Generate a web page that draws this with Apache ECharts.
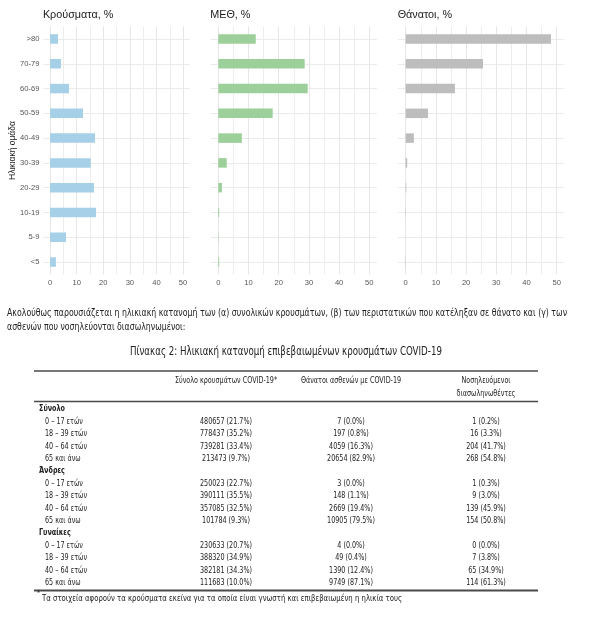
<!DOCTYPE html>
<html><head><meta charset="utf-8">
<script src="https://cdn.jsdelivr.net/npm/echarts@6/dist/echarts.min.js"></script>
<style>html,body{margin:0;padding:0;background:#fff}#c{width:614px;height:634px}</style>
</head><body><div id="c"></div>
<script>
// ---------- data ----------
const ageGroups = ['<5', '5-9', '10-19', '20-29', '30-39', '40-49', '50-59', '60-69', '70-79', '>80'];
const casesPct  = [2.2, 6.0, 17.3, 16.5, 15.3, 16.9, 12.4, 7.1, 4.1, 3.0];
const icuPct    = [0.3, 0.1, 0.3, 1.2, 2.8, 7.8, 18.0, 29.6, 28.6, 12.4];
const deathsPct = [0.1, 0.0, 0.1, 0.2, 0.5, 2.7, 7.4, 16.3, 25.6, 48.1];
const panelTitles = ['Κρούσματα, %', 'ΜΕΘ, %', 'Θάνατοι, %'];
const xTickLabels = [0, 10, 20, 30, 40, 50];
const yAxisTitle = 'Ηλικιακή ομάδα';

const paragraphLines = [
  'Ακολούθως παρουσιάζεται η ηλικιακή κατανομή των (α) συνολικών κρουσμάτων, (β) των περιστατικών που κατέληξαν σε θάνατο και (γ) των',
  'ασθενών που νοσηλεύονται διασωληνωμένοι:'
];
const tableTitle = 'Πίνακας 2: Ηλικιακή κατανομή επιβεβαιωμένων κρουσμάτων COVID-19';
const tableHeaders = [['Σύνολο κρουσμάτων COVID-19*'], ['Θάνατοι ασθενών με COVID-19'], ['Νοσηλευόμενοι', 'διασωληνωθέντες']];
const groupNames = ['Σύνολο', 'Άνδρες', 'Γυναίκες'];
const ageBands = ['0 – 17 ετών', '18 – 39 ετών', '40 – 64 ετών', '65 και άνω'];
const totalCases      = ['480657 (21.7%)', '778437 (35.2%)', '739281 (33.4%)', '213473 (9.7%)'];
const totalDeaths     = ['7 (0.0%)', '197 (0.8%)', '4059 (16.3%)', '20654 (82.9%)'];
const totalIntubated  = ['1 (0.2%)', '16 (3.3%)', '204 (41.7%)', '268 (54.8%)'];
const menCases        = ['250023 (22.7%)', '390111 (35.5%)', '357085 (32.5%)', '101784 (9.3%)'];
const menDeaths       = ['3 (0.0%)', '148 (1.1%)', '2669 (19.4%)', '10905 (79.5%)'];
const menIntubated    = ['1 (0.3%)', '9 (3.0%)', '139 (45.9%)', '154 (50.8%)'];
const womenCases      = ['230633 (20.7%)', '388320 (34.9%)', '382181 (34.3%)', '111683 (10.0%)'];
const womenDeaths     = ['4 (0.0%)', '49 (0.4%)', '1390 (12.4%)', '9749 (87.1%)'];
const womenIntubated  = ['0 (0.0%)', '7 (3.8%)', '65 (34.9%)', '114 (61.3%)'];
const footnote = 'Τα στοιχεία αφορούν τα κρούσματα εκείνα για τα οποία είναι γνωστή και επιβεβαιωμένη η ηλικία τους';

// ---------- layout / style ----------
const CHART_FONT = "'Liberation Sans', Arial, sans-serif";
const DOC_FONT = "'Liberation Sans Narrow', 'DejaVu Sans Condensed', Roboto, sans-serif";
const mctx = document.createElement('canvas').getContext('2d');
// horizontal squeeze so a reference string at a given size spans the target width
function squeeze(text, size, target, weight) {
  mctx.font = (weight || 'normal') + ' ' + size + 'px ' + DOC_FONT;
  return target / mctx.measureText(text).width;
}

const panelSeries = [casesPct, icuPct, deathsPct];
const panelColors = ['#a6d0e8', '#9ccf9a', '#bdbdbd'];
const panelLeft = [43.4, 210.75, 398.15];
const panelWidth = [146.3, 166.1, 166.1];
const gridTop = 26.6, gridHeight = 247.8;

const grids = [], xAxes = [], yAxes = [], series = [], titles = [];
panelSeries.forEach((vals, i) => {
  grids.push({left: panelLeft[i], top: gridTop, width: panelWidth[i], height: gridHeight, containLabel: false, outerBoundsMode: 'none'});
  titles.push({text: panelTitles[i], left: panelLeft[i] - 0.5, top: 10, padding: 0,
    textStyle: {fontFamily: CHART_FONT, fontSize: 10.8, fontWeight: 'normal', color: '#1a1a1a'}});
  xAxes.push({type: 'value', gridIndex: i, min: -2.5, max: 52.5, interval: 2.5,
    axisLine: {show: false}, axisTick: {show: false},
    axisLabel: {fontFamily: CHART_FONT, fontSize: 7.6, color: '#555', margin: 5,
      formatter: v => xTickLabels.includes(Math.round(v * 100) / 100) ? String(Math.round(v)) : ''},
    splitLine: {show: true, lineStyle: {color: ['rgba(0,0,0,0)', '#e6e6e6', 'rgba(0,0,0,0)', '#ededed'], width: 1}}});
  yAxes.push({type: 'category', gridIndex: i, data: ageGroups, boundaryGap: true,
    axisLine: {show: false}, axisTick: {show: false}, splitLine: {show: false},
    axisLabel: {show: i === 0, fontFamily: CHART_FONT, fontSize: 7.6, color: '#555', margin: 4},
    name: i === 0 ? yAxisTitle : '', nameLocation: 'middle', nameGap: 26.5, nameRotate: 90, nameMoveOverlap: false,
    nameTextStyle: {fontFamily: CHART_FONT, fontSize: 8.5, color: '#1a1a1a'}});
  yAxes.push({type: 'value', gridIndex: i, min: -0.5, max: 9.5, interval: 0.5, position: 'left',
    axisLine: {show: false}, axisTick: {show: false}, axisLabel: {show: false},
    splitLine: {show: true, lineStyle: {color: ['rgba(0,0,0,0)', '#ebebeb'], width: 1}}});
  series.push({type: 'bar', xAxisIndex: i, yAxisIndex: i * 2, data: vals, barWidth: 9.5,
    itemStyle: {color: panelColors[i]}, silent: true});
});

// ---------- text + table ----------
const g = [];
const TXT = '#222';
function text(t, x, y, size, sx, opts) {
  opts = opts || {};
  g.push({type: 'text', x: x, y: y, scaleX: sx, silent: true, style: {text: t, fill: opts.fill || TXT,
    fontFamily: DOC_FONT, fontSize: size, fontWeight: opts.weight || 'normal',
    textAlign: opts.align || 'left', textVerticalAlign: 'middle'}});
}
function rule(x1, x2, y, w) {
  g.push({type: 'line', silent: true, shape: {x1: x1, y1: y, x2: x2, y2: y}, style: {stroke: '#4a4a4a', lineWidth: w}});
}
const PARA = 10.5, paraSx = squeeze(paragraphLines[0], PARA, 560);
text(paragraphLines[0], 7, 313, PARA, paraSx);
text(paragraphLines[1], 7, 327, PARA, paraSx);
const TTL = 11.5;
text(tableTitle, 286, 352, TTL, squeeze(tableTitle, TTL, 312), {align: 'center'});

const TBL = 9.4, tblSx = squeeze(totalCases[0], TBL, 52);
const tblLeft = 34, tblRight = 538;
const colX = [226, 351, 486];
rule(tblLeft, tblRight, 371, 1.6);
tableHeaders.forEach((lines, c) => lines.forEach((ln, k) => text(ln, colX[c], 381 + k * 12.8, TBL, tblSx, {align: 'center'})));
rule(tblLeft, tblRight, 401.5, 1.6);
const groupData = [[totalCases, totalDeaths, totalIntubated], [menCases, menDeaths, menIntubated], [womenCases, womenDeaths, womenIntubated]];
const rowStep = 12.4, firstRow = 409;
let r = 0;
groupNames.forEach((gn, gi) => {
  text(gn, 39, firstRow + r * rowStep, TBL, tblSx, {weight: 'bold'});
  r++;
  ageBands.forEach((ab, ai) => {
    const y = firstRow + r * rowStep;
    text(ab, 45, y, TBL, tblSx);
    groupData[gi].forEach((col, c) => text(col[ai], colX[c], y, TBL, tblSx, {align: 'center'}));
    r++;
  });
});
rule(tblLeft, tblRight, 590.5, 2);
text('*', 37, 593, 7, 1);
const FN = 9;
text(footnote, 42, 598.5, FN, squeeze(footnote, FN, 360));

const chart = echarts.init(document.getElementById('c'), null, {renderer: 'canvas'});
chart.setOption({
  backgroundColor: '#fff', animation: false,
  title: titles, grid: grids, xAxis: xAxes, yAxis: yAxes, series: series, graphic: g
});
</script></body></html>
